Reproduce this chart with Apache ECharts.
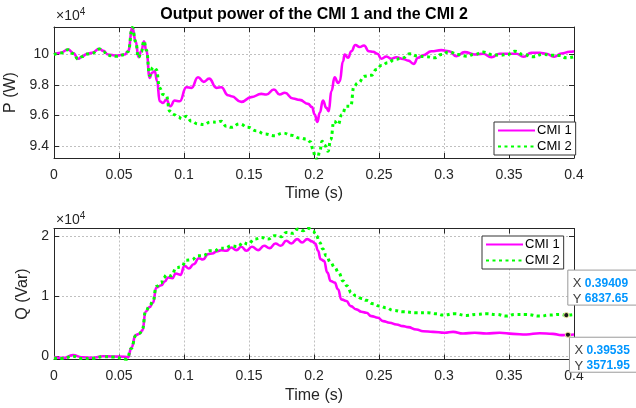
<!DOCTYPE html>
<html>
<head>
<meta charset="utf-8">
<script src="https://cdn.jsdelivr.net/npm/echarts@6/dist/echarts.min.js"></script>
<style>
  html, body { margin: 0; padding: 0; background: #fff; }
  #chart { width: 636px; height: 408px; }
</style>
</head>
<body>
<div id="chart"></div>
<script>
// Active power P (W) of each converter against time (s)
const powerCmi1 = [
  [0, 99980], [0.005, 100080], [0.0108, 100290], [0.015, 100050], [0.0185, 99690], [0.022, 99850],
  [0.025, 100000], [0.029, 100070], [0.035, 100340], [0.038, 100200], [0.0415, 99970], [0.048, 99900],
  [0.0544, 99970], [0.057, 100180], [0.0603, 101700], [0.0628, 100830], [0.065, 99790], [0.0672, 100180],
  [0.0692, 100830], [0.0711, 100180], [0.0736, 98450], [0.0754, 98780], [0.0775, 98880], [0.0793, 98240],
  [0.0813, 96930], [0.0839, 96820], [0.0864, 97040], [0.0895, 96610], [0.0928, 96980], [0.0967, 96930],
  [0.1018, 97840], [0.1057, 97800], [0.1108, 98490], [0.1152, 98190], [0.1193, 98400], [0.125, 97800],
  [0.1287, 97840], [0.1339, 97320], [0.1364, 97260], [0.1441, 96890], [0.1518, 97200], [0.1595, 97410],
  [0.1634, 97370], [0.1692, 97690], [0.1736, 97370], [0.1775, 97480], [0.1839, 97110], [0.189, 97020],
  [0.1954, 96760], [0.1985, 96550], [0.2005, 96070], [0.2026, 95590], [0.2044, 96180], [0.2069, 96980],
  [0.2095, 96500], [0.2113, 96290], [0.2134, 97590], [0.2159, 98490], [0.2185, 98120], [0.2198, 98230],
  [0.2223, 99530], [0.2236, 99970], [0.2262, 99750], [0.2287, 100180], [0.2318, 100580], [0.2351, 100450],
  [0.2385, 100550], [0.2421, 100180], [0.2454, 100140], [0.2488, 100010], [0.2518, 99690], [0.2557, 99840],
  [0.2595, 99690], [0.2634, 99790], [0.2685, 99680], [0.2725, 99570], [0.2767, 99360], [0.28, 99750],
  [0.2839, 99920], [0.2903, 100180], [0.298, 100250], [0.3039, 100180], [0.3095, 99860], [0.3159, 100120],
  [0.3236, 99970], [0.33, 100010], [0.3365, 99790], [0.3428, 100010], [0.3493, 100010], [0.3557, 100010],
  [0.3613, 99820], [0.3672, 100080], [0.3736, 100080], [0.3787, 100010], [0.3846, 99820], [0.3903, 100030],
  [0.3967, 100140], [0.4, 100180]
];
const powerCmi2 = [
  [0, 99950], [0.005, 100060], [0.0108, 100270], [0.015, 100020], [0.0185, 99660], [0.022, 99830],
  [0.025, 99990], [0.029, 100040], [0.035, 100320], [0.038, 100150], [0.0415, 99900], [0.048, 99850],
  [0.0544, 99950], [0.057, 100150], [0.0603, 101720], [0.0628, 100800], [0.065, 99760], [0.0672, 100150],
  [0.0692, 100850], [0.0711, 100250], [0.0736, 98600], [0.0762, 99140], [0.0787, 98990], [0.0813, 97800],
  [0.0839, 97370], [0.0864, 97300], [0.089, 96290], [0.0921, 96070], [0.0954, 95900], [0.0987, 95790],
  [0.1018, 95960], [0.1057, 95640], [0.1108, 95460], [0.1152, 95420], [0.1205, 95590], [0.125, 95570],
  [0.1287, 95640], [0.1326, 95310], [0.1364, 95240], [0.1428, 95460], [0.1492, 95240], [0.1557, 95020],
  [0.1621, 94810], [0.1697, 94700], [0.1762, 94870], [0.1826, 94720], [0.189, 94550], [0.1941, 94480],
  [0.1975, 94290], [0.1992, 93790], [0.201, 93290], [0.2026, 93140], [0.2044, 93680], [0.2062, 94330],
  [0.2082, 94070], [0.2108, 93680], [0.2128, 94440], [0.2154, 95640], [0.2185, 95420], [0.2215, 96070],
  [0.2249, 96610], [0.2282, 96610], [0.2308, 97910], [0.2338, 98120], [0.239, 98560], [0.2441, 98620],
  [0.248, 98990], [0.2518, 99250], [0.257, 99430], [0.2621, 99640], [0.2685, 99750], [0.2736, 100010],
  [0.28, 99860], [0.2864, 99820], [0.2929, 99750], [0.298, 99970], [0.3039, 100140], [0.3108, 99970],
  [0.3172, 99860], [0.3236, 99970], [0.33, 100120], [0.3365, 99970], [0.3428, 99920], [0.3493, 99970],
  [0.3544, 100180], [0.3608, 99970], [0.3685, 99820], [0.3762, 99970], [0.3826, 99920], [0.389, 99900],
  [0.3941, 99750], [0.4, 99820]
];

// Reactive power Q (Var) of each converter against time (s)
const reactiveCmi1 = [
  [0, -120], [0.0069, -280], [0.0146, 170], [0.0213, -170], [0.03, -250], [0.0377, 0], [0.0454, -50],
  [0.0544, -100], [0.057, -200], [0.0595, 1400], [0.0628, 3510], [0.0659, 3730], [0.068, 4290],
  [0.0705, 7410], [0.0736, 8190], [0.0762, 8920], [0.0787, 11420], [0.0826, 11810], [0.0852, 12420],
  [0.0877, 13090], [0.0911, 12980], [0.0936, 13760], [0.0972, 13540], [0.1005, 15030], [0.1038, 14590],
  [0.1074, 15310], [0.1115, 16310], [0.1146, 16090], [0.1185, 16980], [0.1218, 17090], [0.125, 17430],
  [0.1287, 17650], [0.1326, 17540], [0.1364, 18100], [0.1403, 17650], [0.1441, 18210], [0.148, 17540],
  [0.1523, 18210], [0.157, 17650], [0.1616, 18370], [0.1659, 17980], [0.1703, 18760], [0.1744, 18370],
  [0.1787, 19210], [0.1826, 18760], [0.187, 19490], [0.1908, 18930], [0.1949, 19490], [0.1985, 19100],
  [0.201, 18760], [0.2031, 17540], [0.2051, 16140], [0.2077, 15870], [0.2103, 13910], [0.2128, 12520],
  [0.2159, 12240], [0.2185, 11130], [0.221, 9460], [0.2249, 9180], [0.2282, 8340], [0.2326, 7790],
  [0.2364, 7400], [0.2403, 7230], [0.2441, 6670], [0.2492, 6390], [0.2531, 5840], [0.2582, 5560],
  [0.2634, 5280], [0.2685, 5000], [0.2723, 4830], [0.2788, 4440], [0.2839, 4160], [0.2916, 4050],
  [0.3005, 3890], [0.307, 4050], [0.3146, 3780], [0.3236, 3890], [0.3326, 3780], [0.3428, 3890],
  [0.3531, 3720], [0.3633, 3610], [0.3736, 3830], [0.3838, 3720], [0.3903, 3500], [0.39535, 3571.95],
  [0.4, 3610]
];
const reactiveCmi2 = [
  [0, -300], [0.0069, -400], [0.0146, 0], [0.0213, -400], [0.03, -350], [0.0377, -80], [0.0454, -120],
  [0.056, -500], [0.0595, 1300], [0.0628, 3400], [0.0659, 3800], [0.068, 4500], [0.0705, 7500],
  [0.0736, 8400], [0.0762, 9200], [0.0787, 11600], [0.0826, 12200], [0.0839, 12980], [0.087, 13540],
  [0.0903, 13370], [0.0941, 14750], [0.098, 14860], [0.1018, 15980], [0.1057, 16030], [0.1108, 16700],
  [0.1152, 16700], [0.1193, 17540], [0.1236, 17540], [0.1274, 17980], [0.1313, 17980], [0.1364, 18370],
  [0.1415, 18210], [0.1454, 18930], [0.1492, 18650], [0.1544, 19490], [0.1595, 19770], [0.1646, 19490],
  [0.1697, 20050], [0.1749, 19880], [0.1787, 20600], [0.1839, 20440], [0.1877, 21160], [0.1916, 20880],
  [0.1954, 21300], [0.1992, 20880], [0.2018, 20050], [0.2044, 18930], [0.2069, 17820], [0.2095, 16700],
  [0.2128, 15590], [0.2159, 14750], [0.219, 13910], [0.2223, 12520], [0.2256, 11690], [0.2287, 10570],
  [0.2326, 10010], [0.2364, 9620], [0.2403, 9290], [0.2454, 8730], [0.2505, 8340], [0.2557, 8060],
  [0.2608, 7620], [0.2685, 7400], [0.2788, 7230], [0.2877, 7230], [0.2941, 7060], [0.2992, 6840],
  [0.3082, 7060], [0.3172, 6780], [0.3249, 6950], [0.3326, 7060], [0.3403, 6950], [0.348, 6670],
  [0.3544, 6950], [0.3633, 6950], [0.3736, 6670], [0.3813, 6840], [0.389, 6950], [0.39409, 6837.65],
  [0.4, 6950]
];

// Axis ticks
const timeTicks = { min: 0, max: 0.4, step: 0.05 };
const powerTicks = [94000, 96000, 98000, 100000];
const powerRange = [93250, 101750];
const reactiveTicks = [0, 10000, 20000];
const reactiveRange = [-550, 21250];

// Data tips pinned on the reactive-power curves
const tipCmi2 = [0.39409, 6837.65];
const tipCmi1 = [0.39535, 3571.95];

const FONT = 'Liberation Sans, Arial, Helvetica, sans-serif';
const INK = '#262626';
const GRID_LINE = { show: true, lineStyle: { color: '#c0c0c0', type: [2, 2], width: 1 } };

function timeAxis(gridIndex, primary) {
  return {
    type: 'value', gridIndex,
    position: primary ? 'bottom' : 'top',
    min: timeTicks.min, max: timeTicks.max, interval: timeTicks.step,
    axisLine: { show: true, onZero: false, lineStyle: { color: INK, width: 1 } },
    axisTick: { show: true, inside: true, length: 5, lineStyle: { color: INK } },
    axisLabel: primary ? {
      show: true, color: INK, fontFamily: FONT, fontSize: 14, margin: 10,
      formatter: v => String(+v.toFixed(2))
    } : { show: false },
    splitLine: primary ? GRID_LINE : { show: false },
    name: primary ? 'Time (s)' : '',
    nameLocation: 'middle', nameGap: 28,
    nameTextStyle: { color: INK, fontFamily: FONT, fontSize: 16 }
  };
}

function valueAxis(gridIndex, primary, range, ticks, title, gap) {
  return {
    type: 'value', gridIndex,
    position: primary ? 'left' : 'right',
    min: range[0], max: range[1],
    axisLine: { show: true, onZero: false, lineStyle: { color: INK, width: 1 } },
    axisTick: { show: true, inside: true, length: 5, customValues: ticks, lineStyle: { color: INK } },
    axisLabel: primary ? {
      show: true, customValues: ticks, color: INK, fontFamily: FONT, fontSize: 14, margin: 5,
      formatter: v => String(+(v / 1e4).toFixed(2))
    } : { show: false },
    splitLine: primary ? GRID_LINE : { show: false },
    name: primary ? title : '',
    nameLocation: 'middle', nameGap: gap,
    nameTextStyle: { color: INK, fontFamily: FONT, fontSize: 16 }
  };
}

function curve(name, data, xi, yi, dotted) {
  return {
    name, type: 'line', data, xAxisIndex: xi, yAxisIndex: yi,
    showSymbol: false, symbol: 'none', smooth: 0.5, smoothMonotone: 'x',
    clip: true, animation: false,
    lineStyle: dotted
      ? { color: '#00ff00', width: 3, type: [3, 3.5], cap: 'butt' }
      : { color: '#ff00ff', width: 2.6 },
    itemStyle: { color: dotted ? '#00ff00' : '#ff00ff' }
  };
}

function legendAt(left, top) {
  return {
    left, top, orient: 'vertical',
    data: ['CMI 1', 'CMI 2'],
    itemWidth: 37, itemHeight: 14, itemGap: 3,
    padding: [2, 4, 2, 3],
    backgroundColor: '#fff', borderColor: '#333', borderWidth: 1, borderRadius: 0,
    selectedMode: false,
    itemStyle: { opacity: 0 },
    textStyle: { color: '#000', fontFamily: FONT, fontSize: 13, padding: [0, 0, 0, -3] }
  };
}

const exponentLabel = (x, y) => ({
  type: 'text', left: x, top: y, silent: true,
  style: {
    text: '{m|\u00d710}{e|4}',
    rich: {
      m: { fontFamily: FONT, fontSize: 14, fill: INK, color: INK },
      e: { fontFamily: FONT, fontSize: 10, fill: INK, color: INK, verticalAlign: 'top', padding: [0, 0, 8, 0] }
    }
  }
});

const chart = echarts.init(document.getElementById('chart'), null, { renderer: 'canvas' });

chart.setOption({
  animation: false,
  backgroundColor: '#fff',
  title: {
    text: 'Output power of the CMI 1 and the CMI 2',
    left: 314, top: 7, textAlign: 'center', padding: 0,
    textStyle: { fontFamily: FONT, fontSize: 16, fontWeight: 'bold', color: '#000' }
  },
  grid: [
    { left: 54, top: 27, width: 520, height: 131, containLabel: false, outerBoundsMode: 'none' },
    { left: 54, top: 228.5, width: 520, height: 131, containLabel: false, outerBoundsMode: 'none' }
  ],
  xAxis: [timeAxis(0, true), timeAxis(0, false), timeAxis(1, true), timeAxis(1, false)],
  yAxis: [
    valueAxis(0, true, powerRange, powerTicks, 'P (W)', 27),
    valueAxis(0, false, powerRange, powerTicks),
    valueAxis(1, true, reactiveRange, reactiveTicks, 'Q (Var)', 22),
    valueAxis(1, false, reactiveRange, reactiveTicks)
  ],
  legend: [legendAt(494, 122), legendAt(482, 236)],
  series: [
    curve('CMI 1', powerCmi1, 0, 0, false),
    curve('CMI 2', powerCmi2, 0, 0, true),
    curve('CMI 1', reactiveCmi1, 2, 2, false),
    curve('CMI 2', reactiveCmi2, 2, 2, true)
  ],
  graphic: [exponentLabel(56, 7), exponentLabel(56, 211)]
});

// Data tip boxes, placed from the axis scales of the lower plot
function dataTip(point, above) {
  const [px, py] = chart.convertToPixel({ xAxisIndex: 2, yAxisIndex: 2 }, point);
  const boxW = 76, boxH = 35;
  const bx = px + 1.5;
  const by = above ? py - 10 - boxH : py + 2.5;
  return [
    {
      type: 'rect', silent: true, z: 100,
      shape: { x: bx, y: by, width: boxW, height: boxH },
      style: { fill: '#fff', stroke: '#9a9a9a', lineWidth: 1 }
    },
    {
      type: 'text', silent: true, z: 101, x: bx + 5, y: by + 5.5,
      style: {
        text: '{k|X} {v|' + point[0].toFixed(5) + '}\n{k|Y} {v|' + point[1].toFixed(2) + '}',
        lineHeight: 15.6,
        rich: {
          k: { fontFamily: FONT, fontSize: 13, fill: '#404040', lineHeight: 15.6 },
          v: { fontFamily: FONT, fontSize: 12, fontWeight: 'bold', fill: '#0096ff', lineHeight: 15.6 }
        }
      }
    },
    {
      type: 'circle', silent: true, z: 102,
      shape: { cx: px, cy: py, r: 2.6 },
      style: { fill: '#1a1a1a', stroke: '#f2eda0', lineWidth: 1 }
    }
  ];
}

chart.setOption({
  graphic: [exponentLabel(56, 7), exponentLabel(56, 211)]
    .concat(dataTip(tipCmi2, true), dataTip(tipCmi1, false))
});
</script>
</body>
</html>
